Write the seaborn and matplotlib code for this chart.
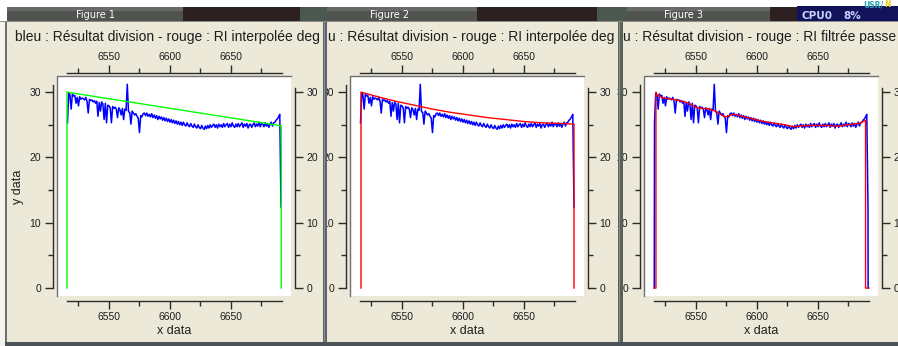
import matplotlib
matplotlib.use("Agg")
import matplotlib.pyplot as plt
from matplotlib.patches import Rectangle
from matplotlib.transforms import Bbox
import seaborn as sns

# ---------------- data ----------------
wave = list(range(6516, 6692))          # wavelength sampling (1 A)
flux = [25.3, 29.8, 29.6, 27.4, 29.7, 29.4, 29.5, 28.3, 29.2, 27.9,
        29.3, 28.9, 29.1, 29.0, 28.8, 29.2, 28.6, 26.8, 28.9, 28.7,
        28.8, 28.5, 28.7, 28.3, 28.6, 26.3, 28.4, 27.1, 28.5, 28.2,
        25.8, 28.3, 25.3, 28.0, 27.9, 27.6, 25.3, 27.8, 27.5, 27.7,
        27.4, 26.1, 27.6, 27.3, 26.5, 27.5, 25.8, 27.4, 27.2, 31.2,
        27.0, 26.9, 25.1, 27.1, 26.8, 26.5, 26.7, 26.3, 26.0, 23.8,
        26.4, 26.2, 26.7, 26.8, 26.4, 26.8, 26.3, 26.6, 26.2, 26.7,
        26.1, 26.5, 26.0, 26.4, 25.8, 26.3, 25.9, 26.2, 25.7, 26.1,
        25.6, 26.0, 25.5, 25.9, 25.4, 25.8, 25.3, 25.7, 25.2, 25.6,
        25.1, 25.5, 25.0, 25.4, 24.9, 25.4, 25.0, 24.8, 25.3, 24.9,
        24.7, 25.2, 24.8, 24.6, 25.1, 24.7, 24.5, 25.0, 24.6, 24.4,
        24.9, 24.5, 24.3, 24.8, 24.4, 24.9, 24.5, 25.0, 24.6, 24.9,
        25.1, 24.6, 25.0, 24.5, 25.1, 24.7, 25.0, 24.6, 25.2, 24.7,
        25.0, 25.2, 24.6, 25.1, 24.7, 25.3, 24.8, 24.6, 25.1, 24.7,
        25.2, 24.7, 25.0, 25.3, 24.6, 25.1, 24.8, 25.2, 24.5, 25.0,
        25.1, 24.6, 25.0, 25.3, 24.7, 25.1, 24.8, 25.4, 24.7, 25.2,
        25.1, 24.7, 25.3, 24.8, 25.2, 24.6, 25.1, 25.4, 24.8, 25.3,
        25.4, 25.7, 25.9, 26.2, 26.6, 12.4]

# in figure 3 the division result is shown with its zero borders
border_x = [6515.8, 6691.1]
border_y = [0.0, 0.0]

# green : linear interpolation (figure 1)
lin_x = [6515.6, 6515.6, 6691.2, 6691.2]
lin_y = [0.0, 30.0, 24.85, 0.0]

# red : degree-2 interpolation (figure 2)
quad_x = [6516.4, 6516.4, 6530, 6545, 6560, 6575, 6590, 6605, 6620,
          6635, 6650, 6665, 6680, 6691, 6691]
quad_y = [0.0, 30.0, 29.3, 28.6, 28.0, 27.4, 26.9, 26.5, 26.1,
          25.8, 25.5, 25.3, 25.2, 25.1, 0.0]

# red : low-pass filtered (figure 3)
lp_x = [6515.8, 6517.2, 6517.2, 6518, 6520, 6523, 6527, 6531, 6537, 6542.6, 6547,
        6551, 6555, 6559, 6563, 6567, 6571, 6574, 6577, 6580, 6586,
        6592, 6597, 6602.5, 6609, 6616, 6623, 6629.5, 6635, 6641, 6649,
        6657, 6663, 6668, 6674, 6679, 6684, 6689, 6689, 6691.8]
lp_y = [0.0, 0.0, 30.0, 29.6, 29.4, 29.1, 29.0, 28.9, 28.7, 28.4, 28.0,
        27.6, 27.5, 27.5, 27.3, 27.0, 26.5, 26.2, 26.4, 26.6, 26.4,
        26.1, 25.9, 25.6, 25.4, 25.2, 25.0, 24.7, 24.8, 24.9, 24.9,
        24.9, 24.8, 24.8, 25.0, 25.1, 25.2, 25.7, 0.0, 0.0]

x_major = [6550, 6600, 6650]
x_minor = [6525, 6575, 6625, 6675]
y_major = [0, 10, 20, 30]
y_minor = [5, 15, 25]

window_titles = ["Figure 1", "Figure 2", "Figure 3"]
# visible part of each window's plot title
plot_titles = ["bleu : Résultat division - rouge : RI interpolée deg",
               "u : Résultat division - rouge : RI interpolée deg",
               "u : Résultat division - rouge : RI filtrée passe"]

# ---------------- layout ----------------
plt.rcParams['font.family'] = ['Liberation Sans', 'DejaVu Sans']
W, H = 898, 346
BEIGE = '#ECE9D8'
AXC = '#2b2b2b'


def px_rect(x0, y0, x1, y1):
    return [x0 / W, 1 - y1 / H, (x1 - x0) / W, (y1 - y0) / H]


fig = plt.figure(figsize=(W / 100, H / 100), dpi=100)
fig.patch.set_facecolor(BEIGE)

panel_dx = [0, 293, 587]
fits = [(lin_x, lin_y, '#00ff00'), (quad_x, quad_y, '#ff0000'), (lp_x, lp_y, '#ff0000')]

for i, dx in enumerate(panel_dx):
    ax = fig.add_axes(px_rect(57 + dx, 76, 291 + dx, 296), zorder=2)
    ax.set_facecolor('white')
    if i == 2:
        bx = [border_x[0]] + wave + [border_x[1]]
        by = [border_y[0]] + flux + [border_y[1]]
    else:
        bx, by = wave, flux
    sns.lineplot(x=bx, y=by, ax=ax, color='#0000ff', lw=1.1,
                 sort=False, estimator=None)
    fx, fy, fc = fits[i]
    sns.lineplot(x=fx, y=fy, ax=ax, color=fc, lw=1.0, sort=False, estimator=None)
    ax.set_xlim(6507.4, 6699.2)
    ax.set_ylim(-1.22, 32.47)
    for side, off in (('left', 2.9), ('right', 2.9), ('top', 2.2), ('bottom', 3.6)):
        sp = ax.spines[side]
        sp.set_position(('outward', off))
        sp.set_color(AXC)
        sp.set_linewidth(1.0)
    ax.spines['left'].set_bounds(0, 31.1)
    ax.spines['right'].set_bounds(0, 30.6)
    ax.spines['top'].set_bounds(6515.6, 6691.8)
    ax.spines['bottom'].set_bounds(6515.6, 6691.8)
    ax.set_xticks(x_major)
    ax.set_xticks(x_minor, minor=True)
    ax.set_yticks(y_major)
    ax.set_yticks(y_minor, minor=True)
    ax.tick_params(which='both', direction='out', top=True, right=True,
                   labeltop=True, labelright=True, color=AXC, width=1.0,
                   labelsize=7.5, labelcolor='#1e1e1e')
    ax.tick_params(which='major', length=5.8)
    ax.tick_params(which='minor', length=3.3)
    ax.tick_params(axis='y', pad=2.6)
    ax.tick_params(axis='x', pad=2.0)
    # sunken frame of the drawing area
    ax.plot([0, 0, 1], [0, 1, 1], transform=ax.transAxes, color='#707070',
            lw=1.0, clip_on=False, zorder=5)
    ax.set_xlabel('x data', fontsize=9, color='#1e1e1e')
    ax.xaxis.set_label_coords(0.5, -0.134)
    if i == 0:
        ax.set_ylabel('y data', fontsize=9, color='#1e1e1e')
        ax.yaxis.set_label_coords(-0.143, 0.495)
    else:
        ax.set_ylabel('')

# ---------------- window decorations ----------------
ov = fig.add_axes([0, 0, 1, 1], zorder=10)
ov.set_xlim(0, W)
ov.set_ylim(H, 0)
ov.axis('off')


def rect(x0, y0, x1, y1, c, z=1):
    ov.add_patch(Rectangle((x0, y0), x1 - x0, y1 - y0, facecolor=c,
                           edgecolor='none', zorder=z))


rect(0, 0, W, 7, '#ffffff')
rect(0, 7, 7, 21, '#ffffff')
for x0, x1 in ((7, 183), (327, 477), (627, 770)):
    rect(x0, 7, x1, 21, '#505350')
    rect(x0, 7, x1, 11, '#676a67')
for x0, x1 in ((183, 300), (477, 597), (770, 797)):
    rect(x0, 7, x1, 21, '#2c2020')
for x0, x1 in ((300, 327), (597, 627)):
    rect(x0, 7, x1, 21, '#4b5850')
rect(797, 6, W, 21, '#12125a')
rect(0, 21, W, 22, '#8c8c84')

for xc, s in zip((96, 390, 683), window_titles):
    ov.text(xc, 14.5, s, color='white', fontsize=7, family='DejaVu Sans',
            ha='center', va='center', zorder=3)
ov.text(802, 19, 'CPU0', color='#c8d4ff', fontsize=7.5, family='DejaVu Sans',
        fontweight='bold', ha='left', va='baseline', zorder=3)
ov.text(843, 19, '8%', color='#c8d4ff', fontsize=7.5, family='DejaVu Sans',
        fontweight='bold', ha='left', va='baseline', zorder=3)
ov.text(863, 7, 'USR/', color='#2aa6b4', fontsize=5.5, family='DejaVu Sans',
        fontweight='bold', ha='left', va='baseline', zorder=3)
ov.text(884, 7, 'N', color='#e8d020', fontsize=5.5, family='DejaVu Sans',
        fontweight='bold', ha='left', va='baseline', zorder=3)

# plot titles, each clipped by its own window
title_x = [15, 327.5, 623]
clips = [(7, 323), (327, 618), (623, W)]
for tx, s, (c0, c1) in zip(title_x, plot_titles, clips):
    t = ov.text(tx, 41.5, s, fontsize=10, color='#1e1e1e', ha='left',
                va='baseline', zorder=3, clip_on=True)
    t.set_clip_box(Bbox.from_extents(c0, 0, c1, H - 22))

# window borders
rect(0, 22, 5, H, '#f4f3ee')
rect(5, 22, 7, H, '#6d6f70')
rect(323, 22, 327, H, '#5e656a', z=4)
rect(324, 22, 325, H, '#8a9096', z=4)
rect(618, 22, 623, H, '#5a6159', z=4)
rect(619, 22, 620, H, '#8a9088', z=4)
rect(5, 342, W, H, '#4c5356', z=4)

fig.savefig('out.png', dpi=100, facecolor=fig.get_facecolor())
